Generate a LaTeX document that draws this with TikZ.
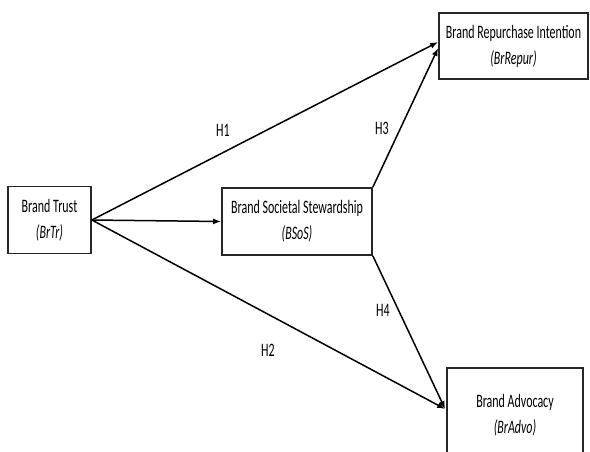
\documentclass[tikz,border=0pt]{standalone}
\usepackage{fontspec}
\setmainfont{Carlito}[FakeStretch=0.63]
\usepackage{xcolor}
\usetikzlibrary{arrows.meta}

\begin{document}
\begin{tikzpicture}[
  x=1pt, y=-1pt, >={Latex[length=8pt,width=6pt]}, font=\fontsize{19}{26}\selectfont,
  every node/.style={align=center},
  box/.style={rectangle, draw=black!85, line width=1.7pt, fill=white, inner sep=0pt},
  link/.style={->, line width=1.5pt, black},
]
\useasboundingbox (0,0) rectangle (590,451);
\clip (0,0) rectangle (590,451);

\node[box, minimum width=83, minimum height=67] (brtr) at (49.5,220) {Brand Trust\\\textit{(BrTr)}};
\node[box, minimum width=150, minimum height=67] (bsos) at (297,221.5) {Brand Societal Stewardship\\\textit{(BSoS)}};
\node[box, minimum width=149, minimum height=66] (brrepur) at (513.5,46) {Brand Repurchase Intention\\\textit{(BrRepur)}};
\node[box, minimum width=136, minimum height=94] (bradvo) at (515,415) {Brand Advocacy\\\textit{(BrAdvo)}};

\draw[link] (brtr.east) -- ([yshift=4pt]brrepur.west);
\draw[link] (brtr.east) -- (bsos.west);
\draw[link] (brtr.east) -- ([xshift=-1pt,yshift=6pt]bradvo.west);
\draw[link] (bsos.north east) -- ([yshift=-2pt]brrepur.west);
\draw[link] (bsos.south east) -- ([xshift=-1pt,yshift=6pt]bradvo.west);

\node (h1) at (223,130) {H1};
\node (h2) at (268,350) {H2};
\node (h3) at (382,128) {H3};
\node (h4) at (383,310) {H4};
\end{tikzpicture}
\end{document}
